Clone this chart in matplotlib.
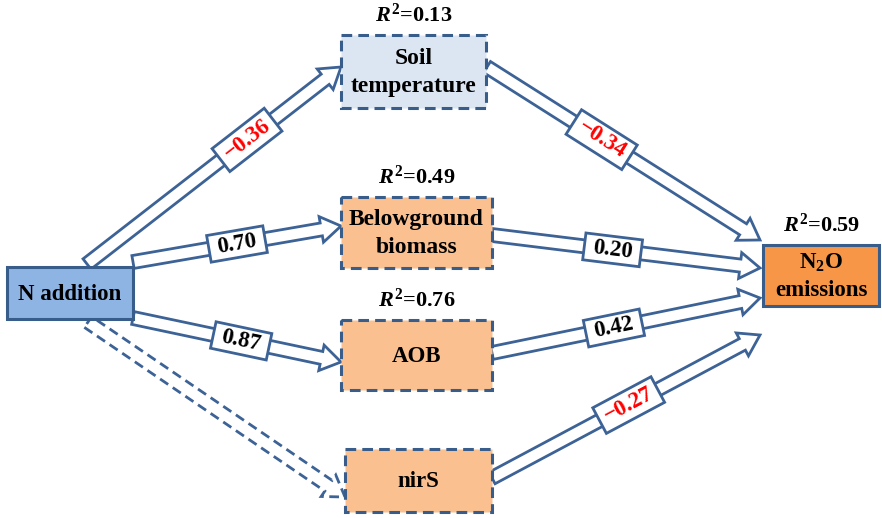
import numpy as np
import matplotlib
matplotlib.use("Agg")
import matplotlib.pyplot as plt
from matplotlib.patches import Rectangle, Polygon

plt.rcParams['font.family'] = ['Liberation Serif', 'DejaVu Serif']
plt.rcParams['mathtext.fontset'] = 'custom'
plt.rcParams['mathtext.rm'] = 'Liberation Serif:bold'
plt.rcParams['mathtext.it'] = 'Liberation Serif:italic:bold'
plt.rcParams['mathtext.bf'] = 'Liberation Serif:bold'

# Nodes of the path model
nodes = ["N addition", "Soil\ntemperature", "Belowground\nbiomass", "AOB", "nirS", "N$_2$O\nemissions"]
r2_values = [None, 0.13, 0.49, 0.76, None, 0.59]

# Paths: (from, to, coefficient); None marks a non-significant path
path_from = [0, 0, 0, 0, 1, 2, 3, 4]
path_to = [1, 2, 3, 4, 5, 5, 5, 5]
path_coef = [-0.36, 0.70, 0.87, None, -0.34, 0.20, 0.42, -0.27]

W, H = 882, 518
fig = plt.figure(figsize=(W / 100, H / 100), dpi=100)
ax = fig.add_axes([0, 0, 1, 1])
ax.set_xlim(0, W)
ax.set_ylim(H, 0)
ax.axis('off')

EDGE = '#3C6296'
BOX_EDGE = '#385D8A'

# node boxes: x0, y0, x1, y1 (pixel layout)
box_geom = [
    (7, 267, 133, 319),
    (341, 35, 486, 108),
    (341, 197, 492, 268),
    (341, 320, 492, 390),
    (345, 449, 492, 512),
    (763, 245, 879, 306),
]
box_fill = ['#8EB4E3', '#DCE6F2', '#FAC090', '#FAC090', '#FAC090', '#F79646']
box_dashed = [False, True, True, True, True, False]
box_fs = [16.5, 17, 17, 16.5, 16.5, 16.5]

for i, (x0, y0, x1, y1) in enumerate(box_geom):
    ls = (0, (3.5, 2)) if box_dashed[i] else '-'
    ax.add_patch(Rectangle((x0, y0), x1 - x0, y1 - y0, facecolor=box_fill[i],
                           edgecolor=BOX_EDGE, lw=2.2, linestyle=ls, zorder=3))
    ax.text((x0 + x1) / 2, (y0 + y1) / 2 + 1, nodes[i], ha='center', va='center',
            fontsize=box_fs[i], fontweight='bold', linespacing=1.38, zorder=4)
    if r2_values[i] is not None:
        ax.text((x0 + x1) / 2, y0 - 8, r'$\it{R}^{2}$=%.2f' % r2_values[i],
                ha='center', va='bottom', fontsize=16, fontweight='bold', zorder=4)

# arrow end points (pixel layout)
arrow_start = [(87, 264), (133, 262), (133, 318), (88, 322),
               (487, 67), (492, 235), (492, 353), (492, 478)]
arrow_end = [(341, 67), (341, 226), (341, 362), (345, 497),
             (760, 240), (760, 268), (760, 298), (760, 335)]
label_frac = [0.63, 0.5, 0.52, None, 0.42, 0.45, 0.455, 0.51]


def block_arrow(p0, p1, shaft=13, head_w=26, head_l=20, dashed=False):
    p0 = np.array(p0, float)
    p1 = np.array(p1, float)
    d = p1 - p0
    L = np.hypot(*d)
    u = d / L
    n = np.array([-u[1], u[0]])
    hb = p1 - u * head_l
    pts = [p0 + n * shaft / 2, hb + n * shaft / 2, hb + n * head_w / 2, p1,
           hb - n * head_w / 2, hb - n * shaft / 2, p0 - n * shaft / 2]
    ls = (0, (3.5, 2)) if dashed else '-'
    ax.add_patch(Polygon(pts, closed=True, facecolor='white', edgecolor=EDGE,
                         lw=2.0, linestyle=ls, joinstyle='miter', zorder=2))
    return u, n


for k in range(len(path_coef)):
    p0, p1 = arrow_start[k], arrow_end[k]
    coef = path_coef[k]
    u, n = block_arrow(p0, p1, dashed=coef is None)
    if coef is None:
        continue
    c = np.array(p0) + (np.array(p1) - np.array(p0)) * label_frac[k]
    ang = np.degrees(np.arctan2(-(p1[1] - p0[1]), p1[0] - p0[0]))
    lw_, lh_ = (66, 29) if coef < 0 else (57, 27)
    corners = [c + u * lw_ / 2 + n * lh_ / 2, c - u * lw_ / 2 + n * lh_ / 2,
               c - u * lw_ / 2 - n * lh_ / 2, c + u * lw_ / 2 - n * lh_ / 2]
    ax.add_patch(Polygon(corners, closed=True, facecolor='white', edgecolor=EDGE,
                         lw=2.0, zorder=5))
    txt = ('\u2212%.2f' % abs(coef)) if coef < 0 else '%.2f' % coef
    ax.text(c[0], c[1], txt, ha='center', va='center', rotation=ang,
            rotation_mode='anchor', fontsize=16.5, fontweight='bold',
            color='#FF0000' if coef < 0 else 'black', zorder=6)

fig.savefig('out.png', dpi=100)
